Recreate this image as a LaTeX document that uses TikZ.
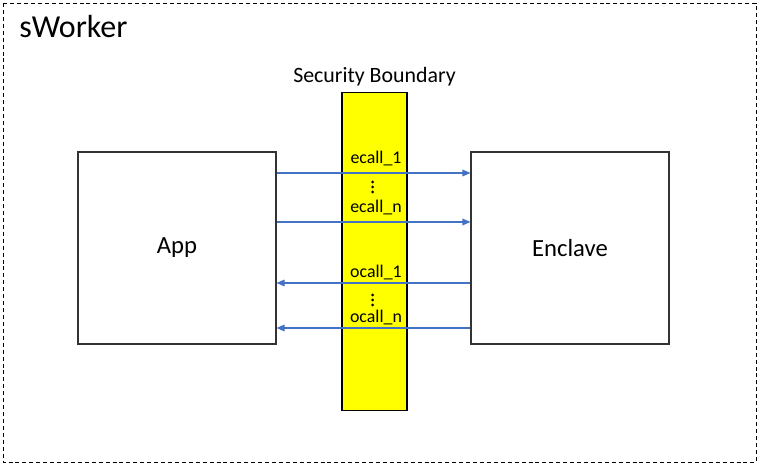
\documentclass[tikz,border=0pt]{standalone}
\usepackage{fontspec}
\setmainfont{Carlito}
\usetikzlibrary{arrows.meta}
\definecolor{arrowblue}{HTML}{4472C4}
\definecolor{boundyellow}{HTML}{FFFF00}
\tikzset{
  box/.style={draw=black!80, line width=0.8pt, fill=white, minimum width=148.5pt, minimum height=144pt, inner sep=0pt, font=\fontsize{18.5}{22}\selectfont},
  callarrow/.style={draw=arrowblue, line width=0.8pt, -{Triangle[length=6pt,width=5pt]}},
  calllabel/.style={font=\fontsize{13.4}{15}\selectfont, inner sep=0pt},
}
\begin{document}
\begin{tikzpicture}[x=0.75pt,y=-0.75pt]
\useasboundingbox (0,0) rectangle (760,466);
\draw[dashed, line width=0.6pt, dash pattern=on 3pt off 2.2pt] (3,3) rectangle (756,462);
\node[anchor=west, font=\fontsize{24}{28}\selectfont, inner sep=0pt] (title) at (19,27) {sWorker};
\node[draw=black, line width=0.8pt, fill=boundyellow, minimum width=48.75pt, minimum height=239pt, inner sep=0pt] (sb) at (374.5,251.5) {};
\node[font=\fontsize{16.4}{19}\selectfont, inner sep=0pt] (sblabel) at (374.5,77) {Security Boundary};
\node[box] (app) at (177,248) {App};
\node[box] (enc) at (570,248) {Enclave};
\path (app.east) ++(0,-75) coordinate (ae1) ++(0,49) coordinate (aen) ++(0,61) coordinate (ao1) ++(0,45) coordinate (aon);
\path (enc.west) ++(0,-75) coordinate (ee1) ++(0,49) coordinate (een) ++(0,61) coordinate (eo1) ++(0,45) coordinate (eon);
\draw[callarrow] (ae1) -- (ee1);
\draw[callarrow] (aen) -- (een);
\draw[callarrow] (eo1) -- (ao1);
\draw[callarrow] (eon) -- (aon);
\node[calllabel] (l1) at (376,159) {ecall\_1};
\node[calllabel] (l2) at (376,207) {ecall\_n};
\node[calllabel] (l3) at (376,272) {ocall\_1};
\node[calllabel] (l4) at (376,317) {ocall\_n};
\foreach \y in {182,187,192}{\fill (372.5,\y) circle (1.5);}
\foreach \y in {295,300,305}{\fill (372.5,\y) circle (1.5);}
\end{tikzpicture}
\end{document}
